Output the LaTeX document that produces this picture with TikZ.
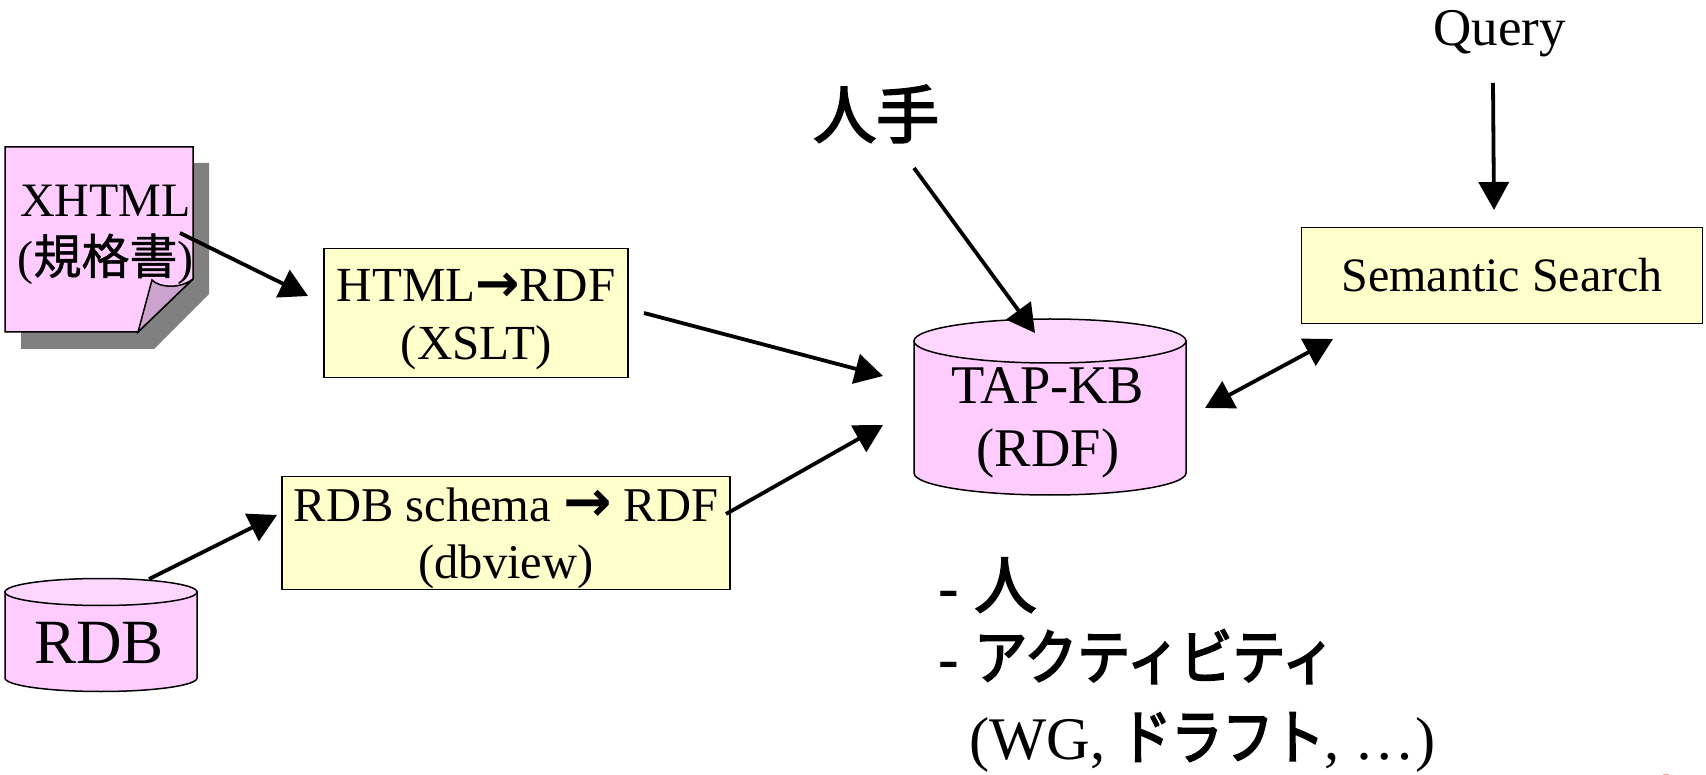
\documentclass[tikz,border=0pt]{standalone}
\usepackage{fontspec}
\setmainfont{Liberation Serif}
\newfontfamily\cjk[FakeBold=1]{Noto Sans CJK JP}
\newfontfamily\cjkheavy[FakeBold=3]{Noto Sans CJK JP}
\newfontfamily\cjknarrow[FakeStretch=0.88,FakeBold=3]{Noto Sans CJK JP}
\newfontfamily\cjknarrower[FakeStretch=0.85,FakeBold=3]{Noto Sans CJK JP}
\newfontfamily\arrowfont{DejaVu Sans}
\usetikzlibrary{arrows.meta}
\definecolor{pinkfill}{HTML}{FFCCFF}
\definecolor{pinktop}{HTML}{FFD6FF}
\definecolor{yellowfill}{HTML}{FFFFCC}
\definecolor{shadowgray}{HTML}{808080}
\definecolor{foldpink}{HTML}{CCA3CC}
\definecolor{cutmark}{HTML}{FFA090}
\newcommand{\fs}[1]{\fontsize{#1}{#1}\selectfont}
\tikzset{
 boxnode/.style={draw=black,line width=1.5pt,fill=yellowfill,inner sep=0pt,align=center},
 flow/.style={line width=3.8pt,-{Triangle[length=28pt,width=30pt]}},
 flowboth/.style={line width=3.8pt,{Triangle[length=28pt,width=30pt]}-{Triangle[length=28pt,width=30pt]}},
 shapeline/.style={draw=black,line width=1.5pt},
 label/.style={inner sep=0pt,anchor=base},
 labelw/.style={inner sep=0pt,anchor=base west},
}
\begin{document}
\begin{tikzpicture}[x=1pt,y=-1pt]
\useasboundingbox (0,0) rectangle (1706,775);
\fill[cutmark] (1663,774) rectangle (1669,775);
% XHTML note
\fill[shadowgray] (21,163) -- (209,163) -- (209,294) -- (154,349) -- (21,349) -- cycle;
\path[shapeline,fill=pinkfill] (5,147) -- (193,147) -- (193,279) -- (138,332) -- (5,332) -- cycle;
\path[shapeline,fill=foldpink] (138,332) -- (152,280) .. controls (160,288) and (180,289) .. (193,279) -- cycle;
\node[inner sep=0pt,align=center,font=\fontsize{48}{58}\selectfont] (xhtml) at (105.5,234.5) {XHTML\\({\cjk\fs{48}規格書})};
% RDB cylinder
\path[shapeline,fill=pinkfill] (5,592) -- (5,678) arc[start angle=180,end angle=360,x radius=96,y radius=-13.5] -- (197,592) -- cycle;
\path[shapeline,fill=pinktop] (101,592) ellipse[x radius=96,y radius=13.5];
\node[label,font=\fs{63}] (rdb) at (99,663) {RDB};
% TAP-KB cylinder
\path[shapeline,fill=pinkfill] (914,341) -- (914,473) arc[start angle=180,end angle=360,x radius=136,y radius=-22] -- (1186,341) -- cycle;
\path[shapeline,fill=pinktop] (1050,341) ellipse[x radius=136,y radius=22];
\node[inner sep=0pt,align=center,font=\fontsize{54.5}{63}\selectfont] (kb) at (1048,423) {TAP-KB\\(RDF)};
% boxes
\node[boxnode,minimum width=304pt,minimum height=129pt,font=\fontsize{49}{58}\selectfont] (html) at (476,313) {\rule{0pt}{45.6pt}HTML{\arrowfont\bfseries\fs{53}→}RDF\\(XSLT)};
\node[boxnode,minimum width=448pt,minimum height=113pt,font=\fontsize{48.5}{57}\selectfont] (schema) at (506,533) {\rule{0pt}{43.4pt}RDB schema {\arrowfont\bfseries\fs{58}→} RDF\\(dbview)};
\node[boxnode,minimum width=401pt,minimum height=96pt,font=\fontsize{48}{58}\selectfont] (search) at (1502,275.5) {Semantic Search};
% free labels
\node[label,font=\fs{53}] (query) at (1499.5,46) {Query};
\node[labelw,font=\fs{63}] (hand) at (813,138) {\cjkheavy 人手};
\node[labelw,font=\fs{62}] (l1) at (938,608) {\textbf{-} {\cjkheavy\fs{62}人}};
\node[labelw,font=\fs{62}] (l2) at (938,679) {\textbf{-} {\cjknarrow\fs{60}アクティビティ}};
\node[labelw,font=\fs{60.5}] (l3) at (969,759) {(WG, {\cjknarrower\fs{60}ドラフト}, …)};
% connector ends
\coordinate (a1s) at (180,233); \coordinate (a1e) at (308,296);
\coordinate (a2s) at (644,313); \coordinate (a2e) at (883,376);
\coordinate (a3s) at (726,514); \coordinate (a3e) at (883,425);
\coordinate (a4s) at (149,579); \coordinate (a4e) at (277,515);
\coordinate (a5s) at (914,168); \coordinate (a5e) at (1035,333);
\coordinate (a6s) at (1205,408); \coordinate (a6e) at (1333,339);
\coordinate (a7s) at (1493,83); \coordinate (a7e) at (1494,210);
\draw[flow] (a1s) -- (a1e);
\draw[flow] (a2s) -- (a2e);
\draw[flow] (a3s) -- (a3e);
\draw[flow] (a4s) -- (a4e);
\draw[flow] (a5s) -- (a5e);
\draw[flowboth] (a6s) -- (a6e);
\draw[flow] (a7s) -- (a7e);
\end{tikzpicture}
\end{document}
